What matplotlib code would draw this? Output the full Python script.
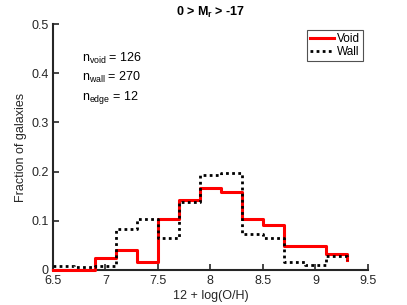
import matplotlib
matplotlib.use("Agg")
import matplotlib.pyplot as plt

plt.rcParams['font.family'] = ['Liberation Sans', 'DejaVu Sans']
plt.rcParams['mathtext.fontset'] = 'custom'
plt.rcParams['mathtext.rm'] = 'Liberation Sans'
plt.rcParams['mathtext.bf'] = 'Liberation Sans:bold'

edges = [6.5, 6.7, 6.9, 7.1, 7.3, 7.5, 7.7, 7.9, 8.1, 8.3, 8.5, 8.7, 8.9, 9.1, 9.3]
void_frac = [0.0, 0.0, 0.024, 0.040, 0.016, 0.103, 0.143, 0.167, 0.159, 0.103, 0.092, 0.048, 0.048, 0.033, 0.020]
wall_frac = [0.009, 0.005, 0.009, 0.083, 0.103, 0.064, 0.139, 0.194, 0.198, 0.074, 0.064, 0.016, 0.011, 0.029, 0.020]
xticks = [6.5, 7, 7.5, 8, 8.5, 9, 9.5]
xticklabels = ['6.5', '7', '7.5', '8', '8.5', '9', '9.5']
yticks = [0, 0.1, 0.2, 0.3, 0.4, 0.5]
yticklabels = ['0', '0.1', '0.2', '0.3', '0.4', '0.5']

fig = plt.figure(figsize=(4.07, 3.05), dpi=100)
ax = fig.add_axes([0.130, 0.115, 0.774, 0.806])

ax.step(edges, void_frac, where='post', color='#ff0000', lw=2.2, label='Void', clip_on=False, zorder=3)
ax.step(edges, wall_frac, where='post', color='black', lw=2.0, ls=(0, (1, 1.2)), label='Wall', clip_on=False, zorder=4)

ax.set_xlim(6.5, 9.5)
ax.set_ylim(0, 0.5)
ax.set_xticks(xticks)
ax.set_xticklabels(xticklabels)
ax.set_yticks(yticks)
ax.set_yticklabels(yticklabels)
ax.tick_params(direction='in', length=4, width=1.2, labelsize=9, colors='#262626', pad=2)
ax.tick_params(axis='x', pad=4)
ax.tick_params(axis='y', pad=3)
for s in ['top', 'right']:
    ax.spines[s].set_visible(False)
for s in ['left', 'bottom']:
    ax.spines[s].set_linewidth(1.5)
    ax.spines[s].set_color('#262626')

ax.set_xlabel('12 + log(O/H)', fontsize=9, color='#262626', labelpad=2)
ax.set_ylabel('Fraction of galaxies', fontsize=9, color='#262626', labelpad=3)
ax.set_title(r'0 > M$_{\mathbf{r}}$ > -17', fontsize=9, fontweight='bold', pad=6)

ax.text(0.093, 0.862, r'n$_\mathrm{void}$ = 126', transform=ax.transAxes, fontsize=9, va='center')
ax.text(0.093, 0.782, r'n$_\mathrm{wall}$ = 270', transform=ax.transAxes, fontsize=9, va='center')
ax.text(0.093, 0.702, r'n$_\mathrm{edge}$ = 12', transform=ax.transAxes, fontsize=9, va='center')

leg = ax.legend(loc='upper right', bbox_to_anchor=(0.995, 0.99), fontsize=8.5, frameon=True, fancybox=False,
                handlelength=2.0, handletextpad=0.25, borderpad=0.25, labelspacing=0.1, borderaxespad=0.3)
leg.get_frame().set_edgecolor('#262626')
leg.get_frame().set_linewidth(0.8)

fig.savefig('out.png', dpi=100)
